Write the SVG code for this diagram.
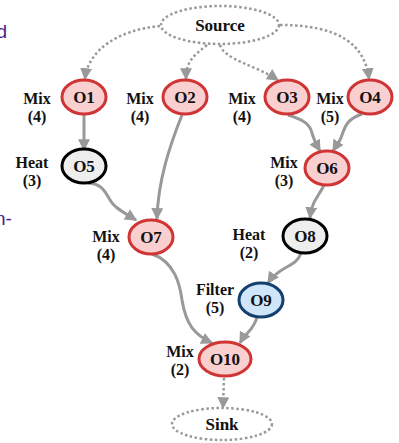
<svg xmlns="http://www.w3.org/2000/svg" width="399" height="443" viewBox="0 0 399 443">
<style>
.lbl{font-family:"Liberation Serif",serif;font-weight:bold;font-size:16px;fill:#111;text-anchor:middle}
.nt{font-family:"Liberation Serif",serif;font-weight:bold;font-size:17px;fill:#111;text-anchor:middle}
.mix{fill:#f9cfcf;stroke:#d03535;stroke-width:3}
.heat{fill:#eeeeee;stroke:#000;stroke-width:3}
.filt{fill:#cfe5fa;stroke:#14406e;stroke-width:3}
.term{fill:#fff;stroke:#999;stroke-width:2.5;stroke-dasharray:2.5 2.5}
.e{fill:none;stroke:#999;stroke-width:3;marker-end:url(#ah)}
.d{fill:none;stroke:#999;stroke-width:2.5;stroke-dasharray:2.5 2.5;marker-end:url(#ah)}
.side{font-family:"Liberation Sans",sans-serif;font-size:19px;fill:#4b1b8f}
</style>
<defs>
<marker id="ah" viewBox="0 0 10 10" refX="9" refY="5" markerWidth="12" markerHeight="12" markerUnits="userSpaceOnUse" orient="auto">
<path d="M0,0 L10,5 L0,10 z" fill="#999"/>
</marker>
</defs>
<text class="side" x="-3.5" y="38">d</text>
<text class="side" x="-5" y="225">n-</text>
<g id="connectors">
<path class="d" d="M160,26 C118,30 88,50 85,79"/>
<path class="d" d="M207,45 C195,55 186,60 186,79"/>
<path class="d" d="M220,45 C225,60 255,65 278,80"/>
<path class="d" d="M280,25 C340,25 365,45 369,79"/>
<path class="e" d="M84,115 L84,150"/>
<path class="e" d="M182,115 C170,145 158,180 157,219"/>
<path class="e" d="M88,183 C108,184 106,200 116,207 C122,212 128,215 136,220"/>
<path class="e" d="M288,115 C305,120 310,125 312,133 C314,140 316,144 320,151"/>
<path class="e" d="M362,114 C345,120 345,128 342,135 C340,142 336,146 333,151"/>
<path class="e" d="M324,185 C318,198 312,200 310,218"/>
<path class="e" d="M301,253 C296,268 280,265 268,283"/>
<path class="e" d="M152,254 C175,262 180,285 182,300 C186,325 195,335 212,343"/>
<path class="e" d="M257,317 C254,330 246,332 240,343"/>
<path class="d" d="M224,378 L223,408"/>
</g>
<g id="Source"><ellipse class="term" cx="220" cy="25" rx="59" ry="19"/><text class="nt" x="220" y="31">Source</text></g>
<g id="O1"><ellipse class="mix" cx="84" cy="97" rx="22" ry="17"/><text class="nt" x="84" y="103">O1</text><text class="lbl" x="37" y="104">Mix</text><text class="lbl" x="37" y="122">(4)</text></g>
<g id="O2"><ellipse class="mix" cx="185" cy="97" rx="22" ry="17"/><text class="nt" x="185" y="103">O2</text><text class="lbl" x="140" y="104">Mix</text><text class="lbl" x="140" y="122">(4)</text></g>
<g id="O3"><ellipse class="mix" cx="287" cy="97" rx="22" ry="17"/><text class="nt" x="287" y="103">O3</text><text class="lbl" x="242" y="104">Mix</text><text class="lbl" x="242" y="122">(4)</text></g>
<g id="O4"><ellipse class="mix" cx="370" cy="97" rx="22" ry="17"/><text class="nt" x="370" y="103">O4</text><text class="lbl" x="330" y="104">Mix</text><text class="lbl" x="330" y="122">(5)</text></g>
<g id="O5"><ellipse class="heat" cx="84" cy="166" rx="22" ry="17"/><text class="nt" x="84" y="172">O5</text><text class="lbl" x="32" y="168">Heat</text><text class="lbl" x="32" y="186">(3)</text></g>
<g id="O6"><ellipse class="mix" cx="327" cy="168" rx="22" ry="17"/><text class="nt" x="327" y="174">O6</text><text class="lbl" x="284" y="168">Mix</text><text class="lbl" x="284" y="186">(3)</text></g>
<g id="O7"><ellipse class="mix" cx="151" cy="237" rx="22" ry="17"/><text class="nt" x="151" y="243">O7</text><text class="lbl" x="106" y="242">Mix</text><text class="lbl" x="106" y="260">(4)</text></g>
<g id="O8"><ellipse class="heat" cx="305" cy="236" rx="22" ry="17"/><text class="nt" x="305" y="242">O8</text><text class="lbl" x="249" y="240">Heat</text><text class="lbl" x="249" y="258">(2)</text></g>
<g id="O9"><ellipse class="filt" cx="261" cy="300" rx="22" ry="17"/><text class="nt" x="261" y="306">O9</text><text class="lbl" x="215" y="295">Filter</text><text class="lbl" x="215" y="313">(5)</text></g>
<g id="O10"><ellipse class="mix" cx="225" cy="359" rx="26" ry="17"/><text class="nt" x="225" y="365">O10</text><text class="lbl" x="180" y="357">Mix</text><text class="lbl" x="180" y="375">(2)</text></g>
<g id="Sink"><ellipse class="term" cx="222" cy="424" rx="50" ry="16"/><text class="nt" x="222" y="430">Sink</text></g>
</svg>
